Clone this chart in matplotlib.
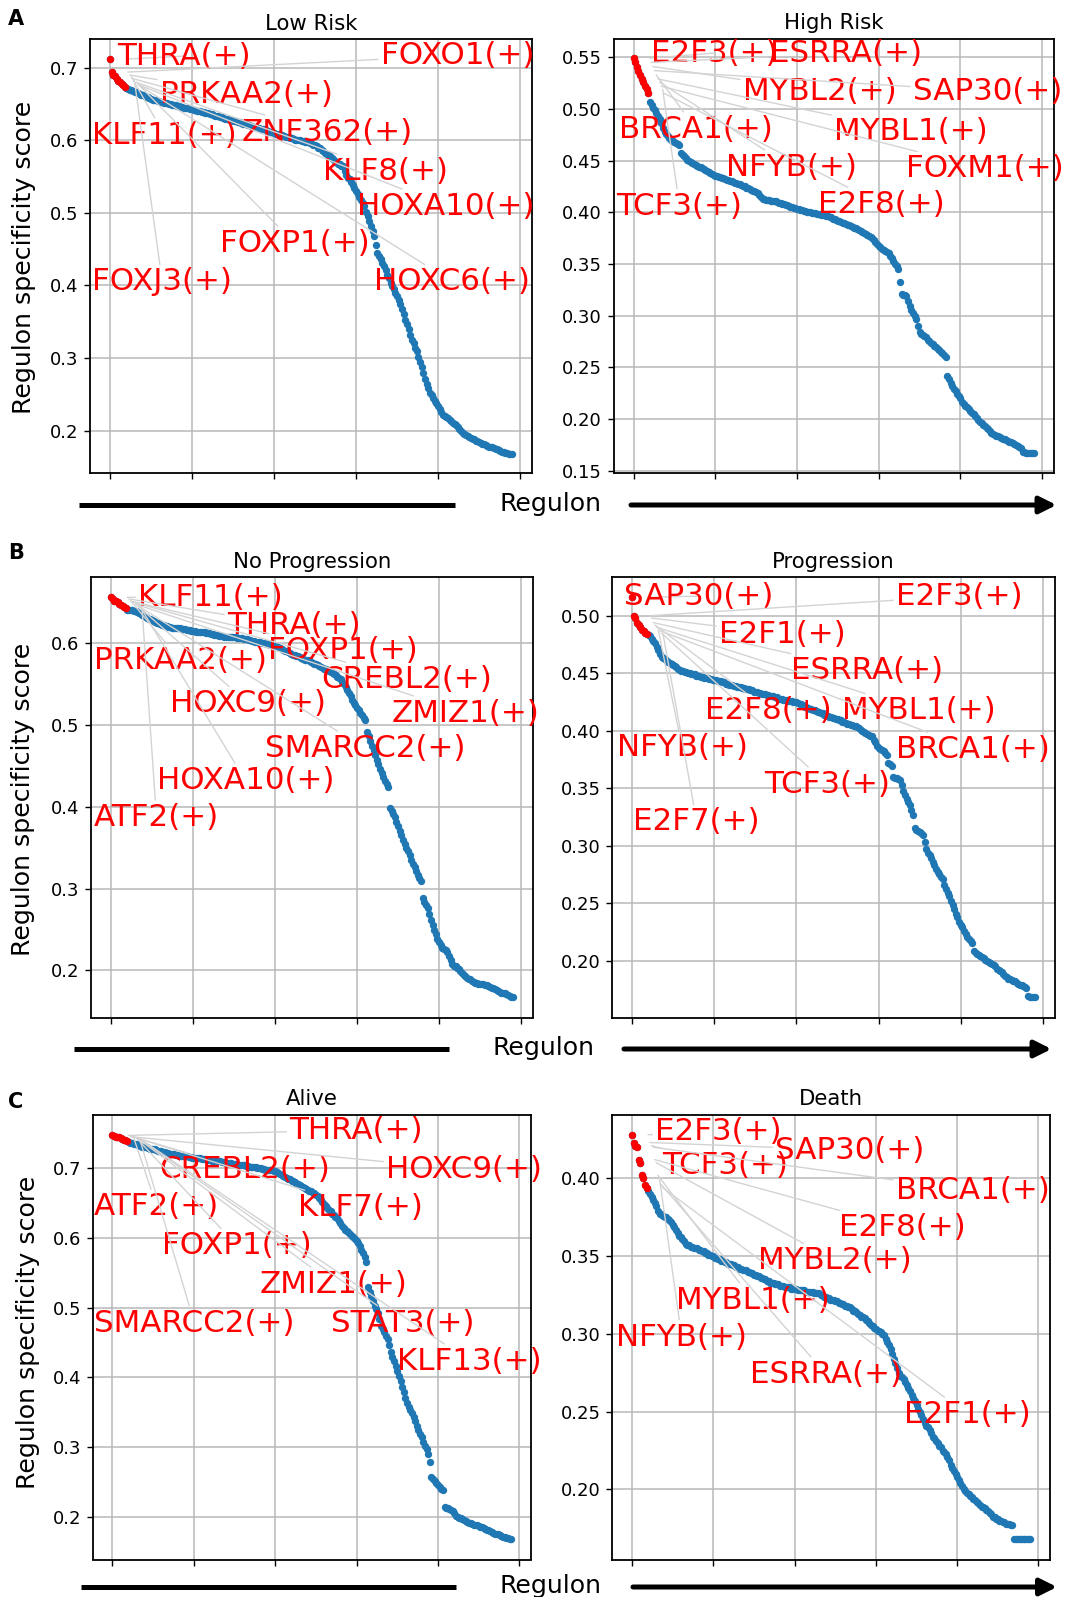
import numpy as np
import matplotlib
matplotlib.use("Agg")
import matplotlib.pyplot as plt
from matplotlib.lines import Line2D
from matplotlib.patches import FancyArrowPatch
from matplotlib.ticker import MultipleLocator

W, H = 1066, 1597

titles = ["Low Risk", "High Risk", "No Progression", "Progression", "Alive", "Death"]

low_risk = [
    0.712, 0.694, 0.690, 0.688, 0.685, 0.682, 0.680, 0.678, 0.676, 0.674,
    0.672, 0.671, 0.670, 0.669, 0.668, 0.667, 0.666, 0.665, 0.664, 0.663,
    0.662, 0.661, 0.660, 0.659, 0.658, 0.657, 0.656, 0.656, 0.655, 0.654,
    0.654, 0.653, 0.653, 0.652, 0.651, 0.651, 0.650, 0.650, 0.649, 0.648,
    0.648, 0.647, 0.647, 0.646, 0.646, 0.645, 0.645, 0.644, 0.644, 0.643,
    0.643, 0.642, 0.642, 0.641, 0.641, 0.640, 0.639, 0.639, 0.638, 0.638,
    0.637, 0.636, 0.636, 0.635, 0.634, 0.634, 0.633, 0.632, 0.632, 0.631,
    0.630, 0.630, 0.629, 0.628, 0.628, 0.627, 0.627, 0.626, 0.625, 0.625,
    0.624, 0.623, 0.623, 0.622, 0.621, 0.621, 0.620, 0.619, 0.619, 0.618,
    0.617, 0.617, 0.616, 0.615, 0.615, 0.614, 0.613, 0.612, 0.612, 0.611,
    0.610, 0.609, 0.609, 0.608, 0.607, 0.607, 0.606, 0.605, 0.605, 0.604,
    0.603, 0.603, 0.602, 0.601, 0.601, 0.600, 0.600, 0.599, 0.599, 0.598,
    0.597, 0.597, 0.596, 0.595, 0.594, 0.593, 0.592, 0.590, 0.589, 0.587,
    0.585, 0.583, 0.581, 0.580, 0.578, 0.576, 0.574, 0.572, 0.570, 0.568,
    0.567, 0.565, 0.564, 0.558, 0.552, 0.548, 0.546, 0.542, 0.538, 0.534,
    0.530, 0.526, 0.522, 0.518, 0.513, 0.509, 0.501, 0.495, 0.489, 0.482,
    0.475, 0.468, 0.456, 0.445, 0.440, 0.436, 0.431, 0.427, 0.421, 0.415,
    0.410, 0.404, 0.399, 0.395, 0.390, 0.385, 0.380, 0.374, 0.367, 0.360,
    0.353, 0.347, 0.340, 0.332, 0.325, 0.320, 0.314, 0.309, 0.302, 0.295,
    0.287, 0.279, 0.271, 0.264, 0.258, 0.252, 0.249, 0.245, 0.241, 0.238,
    0.234, 0.230, 0.226, 0.222, 0.220, 0.219, 0.217, 0.215, 0.213, 0.211,
    0.209, 0.207, 0.205, 0.202, 0.199, 0.197, 0.195, 0.194, 0.192, 0.191,
    0.190, 0.189, 0.188, 0.186, 0.185, 0.184, 0.183, 0.182, 0.181, 0.180,
    0.179, 0.178, 0.177, 0.177, 0.176, 0.175, 0.174, 0.173, 0.172, 0.171,
    0.170, 0.169, 0.169, 0.168, 0.168, 0.168,
]

high_risk = [
    0.549, 0.545, 0.541, 0.537, 0.533, 0.529, 0.526, 0.522, 0.519, 0.515,
    0.507, 0.504, 0.501, 0.499, 0.496, 0.493, 0.490, 0.486, 0.482, 0.478,
    0.476, 0.474, 0.472, 0.470, 0.469, 0.468, 0.467, 0.466, 0.465, 0.457,
    0.455, 0.454, 0.453, 0.451, 0.450, 0.449, 0.448, 0.447, 0.446, 0.445,
    0.444, 0.444, 0.443, 0.442, 0.441, 0.440, 0.439, 0.438, 0.437, 0.436,
    0.435, 0.435, 0.434, 0.434, 0.433, 0.433, 0.432, 0.431, 0.431, 0.430,
    0.430, 0.429, 0.428, 0.428, 0.427, 0.427, 0.426, 0.425, 0.425, 0.424,
    0.424, 0.423, 0.422, 0.421, 0.421, 0.420, 0.419, 0.417, 0.415, 0.413,
    0.413, 0.412, 0.412, 0.412, 0.411, 0.411, 0.411, 0.411, 0.410, 0.409,
    0.409, 0.408, 0.408, 0.407, 0.407, 0.406, 0.405, 0.405, 0.404, 0.404,
    0.403, 0.403, 0.402, 0.402, 0.401, 0.401, 0.400, 0.400, 0.400, 0.399,
    0.399, 0.399, 0.398, 0.398, 0.398, 0.397, 0.397, 0.397, 0.396, 0.396,
    0.395, 0.395, 0.394, 0.394, 0.393, 0.392, 0.392, 0.391, 0.390, 0.390,
    0.389, 0.388, 0.388, 0.387, 0.386, 0.385, 0.385, 0.384, 0.383, 0.382,
    0.381, 0.380, 0.379, 0.378, 0.377, 0.376, 0.375, 0.373, 0.371, 0.369,
    0.367, 0.366, 0.365, 0.364, 0.363, 0.362, 0.361, 0.358, 0.356, 0.353,
    0.350, 0.348, 0.345, 0.333, 0.321, 0.320, 0.320, 0.319, 0.314, 0.309,
    0.306, 0.303, 0.300, 0.297, 0.290, 0.284, 0.282, 0.281, 0.280, 0.279,
    0.277, 0.276, 0.274, 0.273, 0.271, 0.270, 0.268, 0.267, 0.265, 0.264,
    0.262, 0.260, 0.242, 0.239, 0.235, 0.232, 0.229, 0.227, 0.224, 0.222,
    0.220, 0.217, 0.215, 0.213, 0.212, 0.210, 0.208, 0.206, 0.205, 0.203,
    0.201, 0.199, 0.197, 0.196, 0.194, 0.193, 0.191, 0.190, 0.189, 0.187,
    0.186, 0.185, 0.184, 0.184, 0.183, 0.182, 0.181, 0.181, 0.180, 0.179,
    0.178, 0.178, 0.177, 0.176, 0.175, 0.174, 0.173, 0.172, 0.168, 0.168,
    0.167, 0.167, 0.167, 0.167, 0.167, 0.167,
]

no_progression = [
    0.656, 0.654, 0.652, 0.651, 0.650, 0.648, 0.647, 0.645, 0.644, 0.643,
    0.641, 0.641, 0.640, 0.640, 0.639, 0.639, 0.638, 0.637, 0.635, 0.634,
    0.633, 0.632, 0.631, 0.630, 0.629, 0.628, 0.627, 0.626, 0.625, 0.624,
    0.623, 0.622, 0.622, 0.621, 0.621, 0.620, 0.620, 0.619, 0.619, 0.619,
    0.618, 0.618, 0.618, 0.617, 0.617, 0.617, 0.616, 0.616, 0.616, 0.615,
    0.615, 0.615, 0.614, 0.614, 0.614, 0.613, 0.613, 0.613, 0.612, 0.612,
    0.612, 0.611, 0.611, 0.610, 0.610, 0.610, 0.609, 0.609, 0.609, 0.608,
    0.608, 0.608, 0.608, 0.607, 0.607, 0.607, 0.607, 0.606, 0.606, 0.606,
    0.606, 0.605, 0.605, 0.605, 0.604, 0.604, 0.603, 0.603, 0.602, 0.602,
    0.601, 0.601, 0.600, 0.600, 0.600, 0.599, 0.599, 0.598, 0.598, 0.597,
    0.597, 0.596, 0.595, 0.594, 0.593, 0.592, 0.591, 0.590, 0.589, 0.588,
    0.587, 0.586, 0.585, 0.584, 0.584, 0.583, 0.582, 0.581, 0.580, 0.579,
    0.579, 0.578, 0.577, 0.576, 0.575, 0.574, 0.573, 0.572, 0.571, 0.570,
    0.569, 0.568, 0.567, 0.566, 0.565, 0.563, 0.562, 0.561, 0.559, 0.558,
    0.556, 0.553, 0.550, 0.546, 0.543, 0.539, 0.535, 0.531, 0.527, 0.524,
    0.521, 0.518, 0.515, 0.512, 0.509, 0.506, 0.492, 0.486, 0.480, 0.474,
    0.469, 0.463, 0.457, 0.452, 0.446, 0.441, 0.437, 0.432, 0.428, 0.424,
    0.399, 0.395, 0.391, 0.387, 0.382, 0.376, 0.371, 0.365, 0.360, 0.354,
    0.350, 0.346, 0.341, 0.335, 0.330, 0.326, 0.322, 0.317, 0.313, 0.309,
    0.288, 0.284, 0.280, 0.276, 0.269, 0.262, 0.255, 0.250, 0.244, 0.239,
    0.235, 0.231, 0.227, 0.226, 0.225, 0.223, 0.218, 0.213, 0.208, 0.206,
    0.205, 0.203, 0.202, 0.199, 0.197, 0.194, 0.193, 0.191, 0.190, 0.189,
    0.187, 0.186, 0.185, 0.185, 0.184, 0.184, 0.183, 0.183, 0.182, 0.182,
    0.181, 0.180, 0.179, 0.178, 0.177, 0.176, 0.175, 0.174, 0.173, 0.173,
    0.172, 0.171, 0.170, 0.169, 0.168, 0.167,
]

progression = [
    0.516, 0.500, 0.498, 0.494, 0.492, 0.490, 0.488, 0.487, 0.485, 0.484,
    0.483, 0.482, 0.480, 0.478, 0.476, 0.473, 0.470, 0.467, 0.464, 0.463,
    0.462, 0.461, 0.460, 0.459, 0.458, 0.457, 0.456, 0.455, 0.454, 0.453,
    0.452, 0.452, 0.451, 0.451, 0.450, 0.450, 0.449, 0.449, 0.449, 0.448,
    0.448, 0.448, 0.447, 0.447, 0.446, 0.446, 0.446, 0.445, 0.445, 0.444,
    0.444, 0.444, 0.443, 0.443, 0.443, 0.442, 0.442, 0.441, 0.441, 0.440,
    0.440, 0.440, 0.439, 0.439, 0.438, 0.438, 0.438, 0.437, 0.437, 0.436,
    0.436, 0.436, 0.435, 0.435, 0.434, 0.434, 0.434, 0.433, 0.433, 0.432,
    0.432, 0.432, 0.431, 0.431, 0.430, 0.430, 0.430, 0.429, 0.429, 0.428,
    0.428, 0.428, 0.427, 0.427, 0.427, 0.426, 0.426, 0.426, 0.425, 0.425,
    0.425, 0.424, 0.423, 0.423, 0.422, 0.421, 0.421, 0.420, 0.419, 0.419,
    0.418, 0.418, 0.417, 0.416, 0.416, 0.415, 0.415, 0.414, 0.414, 0.413,
    0.412, 0.412, 0.411, 0.411, 0.410, 0.410, 0.409, 0.409, 0.408, 0.408,
    0.407, 0.406, 0.406, 0.405, 0.405, 0.404, 0.404, 0.403, 0.402, 0.401,
    0.400, 0.399, 0.398, 0.397, 0.396, 0.395, 0.395, 0.392, 0.390, 0.387,
    0.385, 0.384, 0.383, 0.382, 0.381, 0.379, 0.372, 0.371, 0.369, 0.360,
    0.359, 0.359, 0.358, 0.357, 0.353, 0.348, 0.344, 0.341, 0.338, 0.335,
    0.331, 0.327, 0.315, 0.314, 0.313, 0.312, 0.311, 0.309, 0.303, 0.297,
    0.294, 0.292, 0.289, 0.286, 0.283, 0.280, 0.277, 0.275, 0.273, 0.271,
    0.266, 0.262, 0.259, 0.256, 0.252, 0.248, 0.245, 0.241, 0.238, 0.234,
    0.231, 0.229, 0.226, 0.223, 0.221, 0.219, 0.217, 0.215, 0.208, 0.207,
    0.206, 0.205, 0.204, 0.203, 0.202, 0.201, 0.200, 0.199, 0.198, 0.197,
    0.196, 0.195, 0.193, 0.192, 0.191, 0.190, 0.188, 0.187, 0.186, 0.184,
    0.184, 0.183, 0.182, 0.182, 0.181, 0.180, 0.179, 0.179, 0.178, 0.177,
    0.176, 0.169, 0.168, 0.168, 0.168, 0.168,
]

alive = [
    0.747, 0.746, 0.745, 0.745, 0.744, 0.743, 0.742, 0.741, 0.740, 0.739,
    0.737, 0.736, 0.736, 0.735, 0.734, 0.734, 0.733, 0.732, 0.731, 0.731,
    0.730, 0.730, 0.729, 0.728, 0.728, 0.727, 0.727, 0.726, 0.725, 0.725,
    0.724, 0.723, 0.723, 0.722, 0.722, 0.721, 0.721, 0.720, 0.720, 0.719,
    0.719, 0.718, 0.718, 0.718, 0.717, 0.717, 0.717, 0.716, 0.716, 0.715,
    0.715, 0.715, 0.714, 0.714, 0.714, 0.713, 0.713, 0.713, 0.712, 0.712,
    0.712, 0.711, 0.711, 0.711, 0.710, 0.710, 0.710, 0.709, 0.709, 0.709,
    0.708, 0.708, 0.707, 0.707, 0.706, 0.706, 0.706, 0.705, 0.705, 0.704,
    0.704, 0.704, 0.703, 0.703, 0.702, 0.702, 0.702, 0.701, 0.701, 0.700,
    0.700, 0.700, 0.699, 0.699, 0.698, 0.698, 0.698, 0.697, 0.697, 0.696,
    0.696, 0.695, 0.693, 0.692, 0.690, 0.689, 0.688, 0.686, 0.685, 0.684,
    0.682, 0.681, 0.680, 0.678, 0.677, 0.676, 0.674, 0.673, 0.671, 0.670,
    0.669, 0.668, 0.667, 0.665, 0.664, 0.662, 0.660, 0.657, 0.654, 0.651,
    0.649, 0.646, 0.643, 0.640, 0.638, 0.635, 0.633, 0.630, 0.628, 0.625,
    0.621, 0.617, 0.614, 0.612, 0.610, 0.608, 0.605, 0.603, 0.601, 0.599,
    0.596, 0.593, 0.589, 0.583, 0.578, 0.572, 0.566, 0.529, 0.523, 0.517,
    0.510, 0.503, 0.498, 0.493, 0.484, 0.474, 0.469, 0.465, 0.460, 0.455,
    0.446, 0.436, 0.429, 0.423, 0.416, 0.409, 0.402, 0.395, 0.387, 0.379,
    0.371, 0.363, 0.358, 0.354, 0.349, 0.344, 0.338, 0.331, 0.325, 0.319,
    0.314, 0.308, 0.302, 0.297, 0.291, 0.279, 0.257, 0.254, 0.251, 0.248,
    0.246, 0.243, 0.240, 0.238, 0.214, 0.213, 0.213, 0.212, 0.210, 0.208,
    0.205, 0.202, 0.200, 0.199, 0.198, 0.197, 0.195, 0.194, 0.193, 0.192,
    0.191, 0.190, 0.189, 0.188, 0.188, 0.187, 0.186, 0.185, 0.184, 0.183,
    0.182, 0.181, 0.180, 0.178, 0.177, 0.176, 0.176, 0.175, 0.174, 0.173,
    0.172, 0.171, 0.170, 0.170, 0.169, 0.168,
]

death = [
    0.428, 0.423, 0.421, 0.420, 0.412, 0.410, 0.402, 0.400, 0.396, 0.394,
    0.392, 0.390, 0.388, 0.386, 0.384, 0.382, 0.379, 0.377, 0.377, 0.376,
    0.375, 0.375, 0.374, 0.373, 0.372, 0.370, 0.369, 0.367, 0.365, 0.363,
    0.362, 0.361, 0.360, 0.358, 0.357, 0.357, 0.356, 0.356, 0.355, 0.355,
    0.355, 0.354, 0.354, 0.353, 0.353, 0.352, 0.352, 0.351, 0.351, 0.350,
    0.350, 0.349, 0.349, 0.348, 0.348, 0.347, 0.347, 0.346, 0.346, 0.345,
    0.345, 0.345, 0.344, 0.344, 0.343, 0.343, 0.342, 0.342, 0.341, 0.341,
    0.341, 0.340, 0.340, 0.339, 0.339, 0.338, 0.338, 0.337, 0.337, 0.336,
    0.336, 0.335, 0.335, 0.334, 0.334, 0.333, 0.333, 0.333, 0.332, 0.332,
    0.332, 0.331, 0.331, 0.331, 0.330, 0.330, 0.330, 0.330, 0.329, 0.329,
    0.329, 0.329, 0.328, 0.328, 0.328, 0.328, 0.328, 0.327, 0.327, 0.327,
    0.327, 0.327, 0.326, 0.326, 0.326, 0.326, 0.325, 0.325, 0.324, 0.324,
    0.323, 0.323, 0.322, 0.322, 0.322, 0.321, 0.321, 0.320, 0.320, 0.319,
    0.319, 0.318, 0.318, 0.317, 0.317, 0.316, 0.315, 0.315, 0.314, 0.313,
    0.312, 0.311, 0.311, 0.310, 0.309, 0.308, 0.307, 0.306, 0.305, 0.304,
    0.303, 0.302, 0.302, 0.301, 0.300, 0.299, 0.297, 0.295, 0.293, 0.290,
    0.287, 0.284, 0.281, 0.278, 0.275, 0.273, 0.272, 0.271, 0.269, 0.267,
    0.265, 0.263, 0.261, 0.259, 0.257, 0.254, 0.252, 0.250, 0.248, 0.245,
    0.243, 0.241, 0.240, 0.238, 0.236, 0.234, 0.233, 0.231, 0.230, 0.228,
    0.227, 0.225, 0.224, 0.223, 0.221, 0.219, 0.216, 0.214, 0.212, 0.210,
    0.208, 0.206, 0.204, 0.202, 0.200, 0.199, 0.198, 0.197, 0.196, 0.195,
    0.194, 0.193, 0.192, 0.191, 0.190, 0.189, 0.189, 0.188, 0.187, 0.186,
    0.185, 0.184, 0.182, 0.182, 0.181, 0.181, 0.180, 0.180, 0.179, 0.179,
    0.178, 0.178, 0.178, 0.177, 0.177, 0.168, 0.168, 0.168, 0.168, 0.168,
    0.168, 0.168, 0.168, 0.168, 0.168, 0.168,
]

low_risk_top = ["THRA(+)", "FOXO1(+)", "PRKAA2(+)", "KLF11(+)", "ZNF362(+)",
                "FOXJ3(+)", "KLF8(+)", "FOXP1(+)", "HOXA10(+)", "HOXC6(+)"]
high_risk_top = ["E2F3(+)", "ESRRA(+)", "MYBL2(+)", "SAP30(+)", "BRCA1(+)",
                 "MYBL1(+)", "NFYB(+)", "FOXM1(+)", "TCF3(+)", "E2F8(+)"]
no_progression_top = ["KLF11(+)", "THRA(+)", "PRKAA2(+)", "FOXP1(+)", "CREBL2(+)",
                      "HOXC9(+)", "ZMIZ1(+)", "SMARCC2(+)", "HOXA10(+)", "ATF2(+)"]
progression_top = ["SAP30(+)", "E2F3(+)", "E2F1(+)", "ESRRA(+)", "E2F8(+)",
                   "MYBL1(+)", "NFYB(+)", "BRCA1(+)", "TCF3(+)", "E2F7(+)"]
alive_top = ["THRA(+)", "CREBL2(+)", "HOXC9(+)", "ATF2(+)", "KLF7(+)",
             "FOXP1(+)", "ZMIZ1(+)", "SMARCC2(+)", "STAT3(+)", "KLF13(+)"]
death_top = ["E2F3(+)", "SAP30(+)", "TCF3(+)", "BRCA1(+)", "E2F8(+)",
             "MYBL2(+)", "MYBL1(+)", "NFYB(+)", "ESRRA(+)", "E2F1(+)"]

series = [low_risk, high_risk, no_progression, progression, alive, death]
top_names = [low_risk_top, high_risk_top, no_progression_top, progression_top, alive_top, death_top]

# ---- layout (label placement in data coords, axes boxes in pixels) ----
label_pos = [
    [(4.2, 0.716), (164.9, 0.717), (30.3, 0.663), (-10.9, 0.607), (80.5, 0.611),
     (-10.9, 0.405), (129.7, 0.557), (66.9, 0.458), (150.6, 0.509), (161.0, 0.405)],
    [(10.4, 0.554), (83.2, 0.554), (66.9, 0.517), (170.9, 0.517), (-8.7, 0.4805),
     (122.7, 0.478), (56.5, 0.4436), (166.7, 0.442), (-10.4, 0.406), (112.9, 0.4076)],
    [(16.7, 0.656), (70.7, 0.621), (-10.5, 0.579), (95.4, 0.5905), (128.2, 0.5556),
     (36.2, 0.526), (171.1, 0.5145), (93.7, 0.4713), (27.8, 0.4323), (-10.5, 0.3871)],
    [(-4.8, 0.517), (160.6, 0.517), (52.9, 0.4839), (96.9, 0.452), (44.6, 0.418),
     (128.0, 0.4174), (-9.5, 0.3858), (160.6, 0.3837), (80.3, 0.3535), (0.8, 0.3207)],
    [(108.6, 0.7544), (28.5, 0.698), (168.1, 0.698), (-11.2, 0.645), (113.9, 0.6436),
     (30.6, 0.5887), (90.7, 0.5333), (-11.2, 0.4779), (134.0, 0.4779), (175.1, 0.4235)],
    [(14.2, 0.4303), (88.1, 0.418), (18.4, 0.4082), (162.1, 0.392), (127.6, 0.3682),
     (77.6, 0.347), (26.8, 0.3217), (-9.8, 0.298), (72.4, 0.2742), (167.4, 0.2483)],
]
ytick_steps = [0.1, 0.05, 0.1, 0.05, 0.1, 0.05]
boxes = [  # left, right, top, bottom (pixels)
    (90, 532, 39.3, 473.5), (613.5, 1054, 38.5, 473),
    (91, 533, 577.3, 1017.5), (612, 1054.8, 577.3, 1017.5),
    (92.5, 531.2, 1115.2, 1559.5), (612.2, 1050.2, 1114.5, 1559.5),
]
top_n = 10

fig = plt.figure(figsize=(W / 100, H / 100), dpi=100)

for i in range(6):
    l, r, t, b = boxes[i]
    ax = fig.add_axes([l / W, 1 - b / H, (r - l) / W, (b - t) / H])
    vals = np.array(series[i])
    x = np.arange(len(vals))
    ax.plot(x, vals, 'o', ms=5.3, mew=0, color='#1f77b4', zorder=2)
    ax.plot(x[:top_n], vals[:top_n], 'o', ms=5.3, mew=0, color='red', zorder=2.1)
    span = vals.max() - vals.min()
    ax.set_ylim(vals.min() - 0.05 * span, vals.max() + 0.05 * span)
    ax.set_xticks(np.arange(0, 251, 50))
    ax.set_xticklabels([])
    ax.yaxis.set_major_locator(MultipleLocator(ytick_steps[i]))
    ax.grid(True, color='#b8b8b8', lw=1.1)
    ax.tick_params(labelsize=13, length=4.3, width=1.0, pad=4)
    for sp in ax.spines.values():
        sp.set_linewidth(1.3)
    ax.set_title(titles[i], fontsize=15.3, pad=7)
    off = len(vals) / 25
    for k, (name, (tx, ty)) in enumerate(zip(top_names[i], label_pos[i])):
        ax.annotate(name, xy=(k + off, vals[k]), xytext=(tx, ty),
                    ha='left', va='center', color='red', fontsize=22.3,
                    arrowprops=dict(arrowstyle='-', color='lightgrey', lw=1.0,
                                    shrinkA=0, shrinkB=0),
                    annotation_clip=False, zorder=3)

# y labels
for (xc, yc) in [(24, 257.5), (23, 799), (28, 1332)]:
    fig.text(xc / W, 1 - yc / H, 'Regulon specificity score', rotation=90,
             fontsize=18.2, ha='center', va='center')

# panel letters
for letter, yb in [('A', 25), ('B', 558.7), ('C', 1108)]:
    fig.text(8 / W, 1 - yb / H, letter, fontsize=15, fontweight='bold',
             ha='left', va='baseline')

# Regulon direction arrows
rows = [  # y, left start, left end, right start, right end, text x, text baseline
    (505, 79, 455, 631, 1056.5, 550, 511),
    (1049, 74, 449, 624, 1051.5, 543.5, 1055),
    (1587, 81, 456, 633, 1057, 551, 1593),
]
for (y, l0, l1, r0, r1, tx, tb) in rows:
    yf = 1 - y / H
    fig.add_artist(Line2D([l0 / W, l1 / W], [yf, yf], transform=fig.transFigure,
                          color='black', lw=3.6, solid_capstyle='butt'))
    fig.add_artist(FancyArrowPatch((r0 / W, yf), (r1 / W, yf), transform=fig.transFigure,
                                   arrowstyle='-|>,head_length=1.0,head_width=0.5',
                                   mutation_scale=10, lw=3.6, color='black',
                                   shrinkA=0, shrinkB=0))
    fig.text(tx / W, 1 - tb / H, 'Regulon', fontsize=18.2, ha='center', va='baseline')

fig.savefig('out.png', dpi=100)
